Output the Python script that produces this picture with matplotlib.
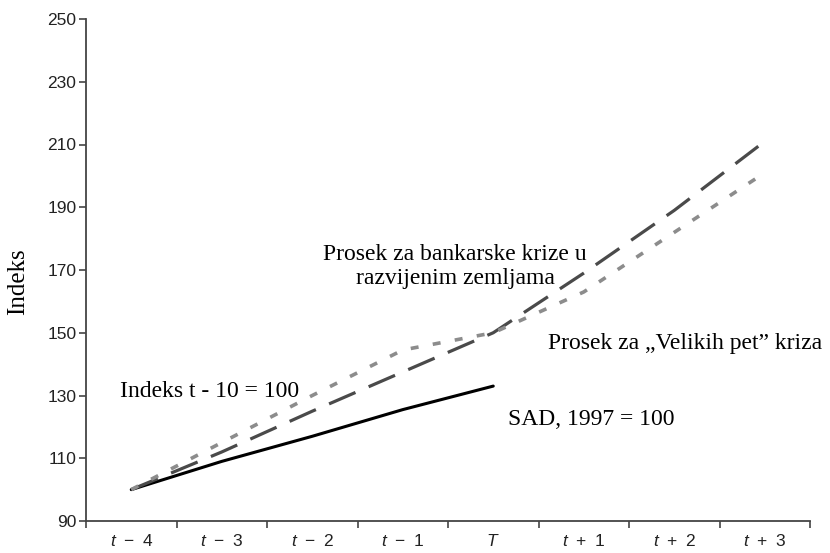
import matplotlib
matplotlib.use("Agg")
import matplotlib.pyplot as plt
import numpy as np

plt.rcParams['mathtext.fontset'] = 'custom'
plt.rcParams['mathtext.it'] = 'Liberation Sans:italic'
plt.rcParams['mathtext.rm'] = 'Liberation Sans'

sp = "\u2002"
categories = ["$t$" + sp + "−" + sp + "4", "$t$" + sp + "−" + sp + "3", "$t$" + sp + "−" + sp + "2",
              "$t$" + sp + "−" + sp + "1", "$T$", "$t$" + sp + "+" + sp + "1",
              "$t$" + sp + "+" + sp + "2", "$t$" + sp + "+" + sp + "3"]
sad = [100, 109, 117, 125.5, 133]
razvijene = [100, 112, 125, 137.5, 150, 169, 189, 211]
velikih_pet = [100, 115, 130, 144.5, 150, 163, 182, 201]
yticks = [90, 110, 130, 150, 170, 190, 210, 230, 250]

fig = plt.figure(figsize=(8.3, 5.53), dpi=100)
ax = fig.add_axes([86/830, 1 - 521/553, (810 - 86)/830, (521 - 19)/553])

x = np.arange(len(categories))
ax.plot(x[:len(sad)], sad, color='black', lw=2.2, solid_capstyle='round')
ax.plot(x, razvijene, color='#4a4a4a', lw=2.3, dashes=(9, 4.5))
ax.plot(x, velikih_pet, color='#8c8c8c', lw=2.6, dashes=(2.2, 4))

ax.set_xlim(-0.5, len(categories) - 0.5)
ax.set_ylim(90, 250)
ax.set_yticks(yticks)
ax.set_xticks(np.arange(len(categories) + 1) - 0.5)
ax.set_xticklabels([])
ax.set_xticks(x, minor=True)
ax.set_xticklabels(categories, minor=True)
ax.tick_params(axis='x', which='minor', length=0, pad=9, labelsize=12.5)
ax.tick_params(axis='x', which='major', length=5, width=1.2, color='#444')
ax.tick_params(axis='y', length=5, width=1.2, color='#444', pad=2, labelsize=12.5)
for lab in ax.get_yticklabels() + ax.get_xticklabels(minor=True):
    lab.set_fontfamily(['Liberation Sans', 'DejaVu Sans'])
    lab.set_color('#222')

for s in ['top', 'right']:
    ax.spines[s].set_visible(False)
for s in ['left', 'bottom']:
    ax.spines[s].set_color('#444')
    ax.spines[s].set_linewidth(1.3)

fig.text(18/830, 1 - 282/553, "Indeks", family='Liberation Serif', fontsize=18,
         rotation=90, ha='center', va='center')

tf = dict(family='Liberation Serif', fontsize=17, color='black')
ax.text(-0.124, 131.3, "Indeks t - 10 = 100", ha='left', va='center', **tf)
ax.text(4.168, 122.3, "SAD, 1997 = 100", ha='left', va='center', **tf)
ax.text(3.58, 171.1, "Prosek za bankarske krize u\nrazvijenim zemljama", ha='center', va='center',
        linespacing=1.2, **tf)
ax.text(4.6, 146.6, "Prosek za „Velikih pet” kriza", ha='left', va='center', **tf)

fig.savefig("out.png", dpi=100)
